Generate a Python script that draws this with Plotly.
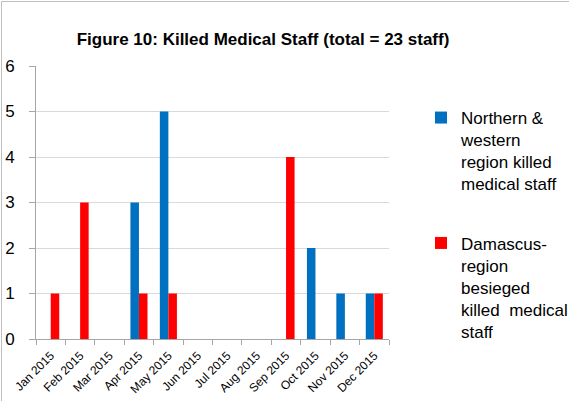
import plotly.graph_objects as go

months = ["Jan 2015", "Feb 2015", "Mar 2015", "Apr 2015", "May 2015", "Jun 2015",
          "Jul 2015", "Aug 2015", "Sep 2015", "Oct 2015", "Nov 2015", "Dec 2015"]
northern_western = [0, 0, 0, 3, 5, 0, 0, 0, 0, 2, 1, 1]
damascus_besieged = [1, 3, 0, 1, 1, 0, 0, 0, 4, 0, 0, 1]
series_names = ["Northern &<br>western<br>region killed<br>medical staff",
                "Damascus-<br>region<br>besieged<br>killed  medical<br>staff"]

W, H = 569, 401
L, R, T, B = 36, 180, 66, 62
pw, ph = W - L - R, H - T - B

fig = go.Figure()
fig.add_bar(x=months, y=northern_western, name=series_names[0], marker_color="#0070C0",
            marker_line_width=0, legendgroup="a")
fig.add_bar(x=months, y=damascus_besieged, name=series_names[1], marker_color="#FF0000",
            marker_line_width=0, legendgroup="b")

font = "Liberation Sans"
fig.update_layout(
    width=W, height=H,
    margin=dict(l=L, r=R, t=T, b=B, autoexpand=False),
    paper_bgcolor="white", plot_bgcolor="white",
    barmode="group", bargap=0.42, bargroupgap=0,
    font=dict(family=font, color="black"),
    title=dict(text="<b>Figure 10: Killed Medical Staff (total = 23 staff)</b>",
               x=263 / W, xanchor="center", y=1 - 39 / H, yanchor="middle",
               font=dict(size=17, family=font, color="black")),
    legend=dict(x=(421 - L) / pw, xanchor="left", y=1 - (100 - T) / ph, yanchor="top",
                font=dict(size=17, family=font, color="black"),
                valign="top", tracegroupgap=34, itemwidth=30,
                bgcolor="rgba(0,0,0,0)"),
    showlegend=True,
    xaxis=dict(type="category", showline=True, linecolor="#a6a6a6", linewidth=1,
               ticks="outside", tickson="boundaries", ticklen=5, tickcolor="#a6a6a6",
               tickangle=-45, tickfont=dict(size=12, family=font), showgrid=False,
               ticklabelstandoff=4, automargin=False),
    yaxis=dict(range=[0, 6], dtick=1, showline=True, linecolor="#a6a6a6", linewidth=1,
               ticks="outside", ticklen=6, tickcolor="#a6a6a6",
               showgrid=True, gridcolor="#d9d9d9", gridwidth=1,
               tickfont=dict(size=17, family=font), zeroline=False,
               ticklabelstandoff=11, automargin=False),
    shapes=[dict(type="rect", xref="paper", yref="paper",
                 x0=(1.5 - L) / pw, x1=(W + 10 - L) / pw,
                 y0=-(H + 10 - T - ph) / ph, y1=1 + (T - 1.5) / ph,
                 line=dict(color="#bfbfbf", width=1))],
)

fig.write_html("out.html", config={"displayModeBar": False},
               post_script="document.body.style.margin='0';document.body.style.padding='0';")
